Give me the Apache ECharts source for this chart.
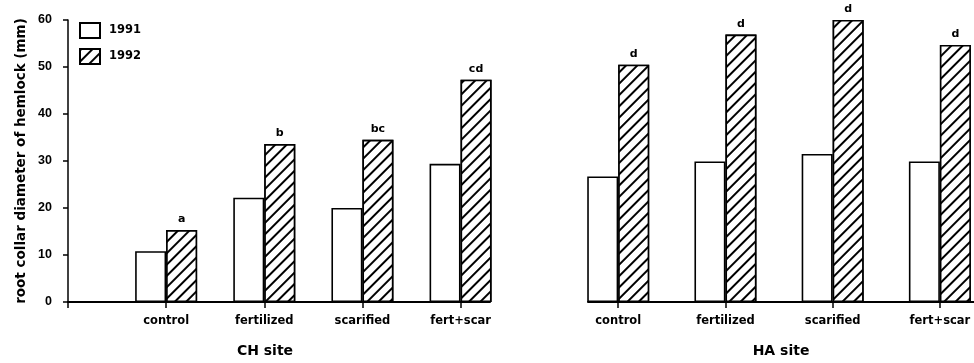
<!DOCTYPE html>
<html>
<head>
<meta charset="utf-8">
<script src="https://cdn.jsdelivr.net/npm/echarts@6/dist/echarts.min.js"></script>
<style>
  html, body { margin: 0; padding: 0; background: #fff; }
  #chart { width: 974px; height: 363px; }
</style>
</head>
<body>
<div id="chart"></div>
<script>
// Treatments along each site's axis
const categories = ['control', 'fertilized', 'scarified', 'fert+scar'];
const years = ['1991', '1992'];

// Root collar diameter (mm), CH site
const ch1991 = [10.8, 22.2, 20.0, 29.4];
const ch1992 = [15.3, 33.6, 34.5, 47.3];
const chLetters = ['a', 'b', 'bc', 'cd'];

// Root collar diameter (mm), HA site
const ha1991 = [26.7, 29.9, 31.5, 29.9];
const ha1992 = [50.5, 56.9, 60.0, 54.7];
const haLetters = ['d', 'd', 'd', 'd'];

// Value-axis ticks
const yTicks = [0, 10, 20, 30, 40, 50, 60];

const chart = echarts.init(document.getElementById('chart'));

const LABEL_FONT = 'DejaVu Sans';
const NUM_FONT = 'Liberation Sans';

const hatch = {
  symbol: 'rect',
  symbolSize: 1,
  dashArrayX: [1, 0],
  dashArrayY: [1.5, 5.5],
  rotation: -Math.PI / 4,
  color: '#000',
  backgroundColor: '#fff'
};

const plainStyle = { color: '#fff', borderColor: '#000', borderWidth: 1.6 };
const hatchStyle = { color: '#fff', borderColor: '#000', borderWidth: 1.6, decal: hatch };

// position each treatment at 1..4 on the site's axis
const toPoints = arr => arr.map((v, i) => [i + 1, v]);
const positions = categories.map((c, i) => i + 1);

function letterLabel(letters) {
  return {
    show: true,
    position: 'top',
    distance: 5,
    formatter: p => letters[p.dataIndex],
    fontFamily: LABEL_FONT,
    fontWeight: 'bold',
    fontSize: 11,
    color: '#000'
  };
}

function siteAxis(gridIndex, min, max, name, tickValues, namePadding) {
  return {
    type: 'value',
    gridIndex,
    min,
    max,
    name,
    nameLocation: 'middle',
    nameGap: 42,
    nameTextStyle: {
      fontFamily: LABEL_FONT, fontWeight: 'bold', fontSize: 14, color: '#000',
      padding: namePadding
    },
    splitLine: { show: false },
    axisLine: { show: true, lineStyle: { color: '#000', width: 2 } },
    axisTick: { show: true, length: 6, inside: false, customValues: tickValues,
      lineStyle: { color: '#000', width: 1.5 } },
    axisLabel: {
      customValues: positions,
      formatter: v => categories[Math.round(v) - 1] || '',
      margin: 13,
      fontFamily: LABEL_FONT, fontWeight: 'bold', fontSize: 11.5, color: '#000'
    }
  };
}

chart.setOption({
  animation: false,
  backgroundColor: '#fff',
  legend: {
    data: years,
    orient: 'vertical',
    left: 79,
    top: 22,
    padding: 0,
    itemWidth: 20,
    itemHeight: 15,
    itemGap: 9,
    icon: 'rect',
    textStyle: { fontFamily: LABEL_FONT, fontWeight: 'bold', fontSize: 11.5, color: '#000',
      padding: [0, 0, 0, 4] }
  },
  grid: [
    { left: 68, top: 20, width: 422, bottom: 59 },
    { left: 588, top: 20, width: 396, bottom: 59 }
  ],
  xAxis: [
    siteAxis(0, 0, 4.3, 'CH site', [0].concat(positions), [0, 28, 0, 0]),
    siteAxis(1, 1 - 31 / 110, 1 - 31 / 110 + 3.6, 'HA site', positions, [0, 0, 0, 0])
  ],
  yAxis: [
    {
      type: 'value',
      gridIndex: 0,
      min: yTicks[0],
      max: yTicks[yTicks.length - 1],
      interval: yTicks[1] - yTicks[0],
      name: 'root collar diameter of hemlock (mm)',
      nameLocation: 'middle',
      nameGap: 40,
      nameTextStyle: { fontFamily: LABEL_FONT, fontWeight: 'bold', fontSize: 13.5, color: '#000' },
      splitLine: { show: false },
      axisLine: { show: true, lineStyle: { color: '#000', width: 1.5 } },
      axisTick: { show: true, length: 5, inside: false, lineStyle: { color: '#000', width: 1.5 } },
      axisLabel: { margin: 16, fontFamily: NUM_FONT, fontWeight: 'bold', fontSize: 12.5, color: '#000' }
    },
    {
      type: 'value',
      gridIndex: 1,
      min: yTicks[0],
      max: yTicks[yTicks.length - 1],
      interval: yTicks[1] - yTicks[0],
      show: false
    }
  ],
  series: [
    { name: years[0], type: 'bar', xAxisIndex: 0, yAxisIndex: 0, data: toPoints(ch1991),
      barWidth: 31, barGap: '0%', itemStyle: plainStyle },
    { name: years[1], type: 'bar', xAxisIndex: 0, yAxisIndex: 0, data: toPoints(ch1992),
      barWidth: 31, barGap: '0%', itemStyle: hatchStyle, label: letterLabel(chLetters) },
    { name: years[0], type: 'bar', xAxisIndex: 1, yAxisIndex: 1, data: toPoints(ha1991),
      barWidth: 31, barGap: '0%', itemStyle: plainStyle },
    { name: years[1], type: 'bar', xAxisIndex: 1, yAxisIndex: 1, data: toPoints(ha1992),
      barWidth: 31, barGap: '0%', itemStyle: hatchStyle, label: letterLabel(haLetters) }
  ]
});
</script>
</body>
</html>
